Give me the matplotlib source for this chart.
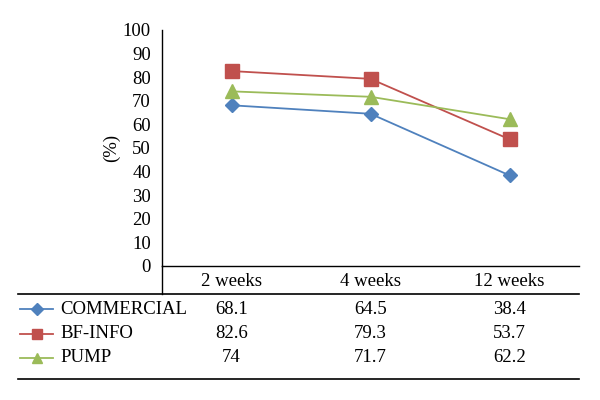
"""Line chart with an Excel-style data table underneath."""

import matplotlib
matplotlib.use("Agg")
import matplotlib.pyplot as plt
from matplotlib.lines import Line2D
from matplotlib.transforms import blended_transform_factory

categories = ["2 weeks", "4 weeks", "12 weeks"]
series_names = ["COMMERCIAL", "BF-INFO", "PUMP"]
commercial = [68.1, 64.5, 38.4]
bf_info = [82.6, 79.3, 53.7]
pump = [74, 71.7, 62.2]
table_labels = [["68.1", "64.5", "38.4"],
                ["82.6", "79.3", "53.7"],
                ["74", "71.7", "62.2"]]

colors = ["#4F81BD", "#C0504D", "#9BBB59"]
markers = ["D", "s", "^"]
msizes = [7.5, 9.5, 9.5]

plt.rcParams["font.family"] = ["Liberation Serif", "DejaVu Serif"]
plt.rcParams["font.size"] = 13.5

W, H = 600, 400
fig = plt.figure(figsize=(6, 4), dpi=100)
ax = fig.add_axes([162 / W, 1 - 266 / H, (579 - 162) / W, (266 - 30) / H])

x = list(range(len(categories)))
for vals, c, m, ms in zip([commercial, bf_info, pump], colors, markers, msizes):
    ax.plot(x, vals, color=c, marker=m, markersize=ms, linewidth=1.3)

ax.set_xlim(-0.5, len(categories) - 0.5)
ax.set_ylim(0, 100)
ax.set_yticks(range(0, 101, 10))
ax.set_xticks([])
ax.tick_params(axis="y", length=0, pad=8)
for s in ["top", "right"]:
    ax.spines[s].set_visible(False)
for s in ["left", "bottom"]:
    ax.spines[s].set_linewidth(1.0)
ax.set_ylabel("(%)", labelpad=2)

# table below the plot
def fy(py):
    return 1 - py / H

fig.add_artist(Line2D([162 / W, 162 / W], [fy(266), fy(294)], color="black", lw=1.0))
fig.add_artist(Line2D([18 / W, 579 / W], [fy(294), fy(294)], color="black", lw=1.2))
fig.add_artist(Line2D([18 / W, 579 / W], [fy(379), fy(379)], color="black", lw=1.2))

tr = blended_transform_factory(ax.transData, fig.transFigure)
for i, cat in enumerate(categories):
    fig.text(x[i], fy(281), cat, transform=tr, ha="center", va="center")

row_y = [309, 334, 358]
for r, name in enumerate(series_names):
    yy = fy(row_y[r])
    fig.add_artist(Line2D([20 / W, 53 / W], [yy, yy], color=colors[r], lw=1.3))
    fig.add_artist(Line2D([36.5 / W], [yy], color=colors[r], marker=markers[r],
                          markersize=msizes[r] * 0.75, lw=0))
    fig.text(60 / W, yy, name, ha="left", va="center")
    for i in range(len(categories)):
        fig.text(x[i], yy, table_labels[r][i], transform=tr, ha="center", va="center")

fig.savefig("out.png", dpi=100)
